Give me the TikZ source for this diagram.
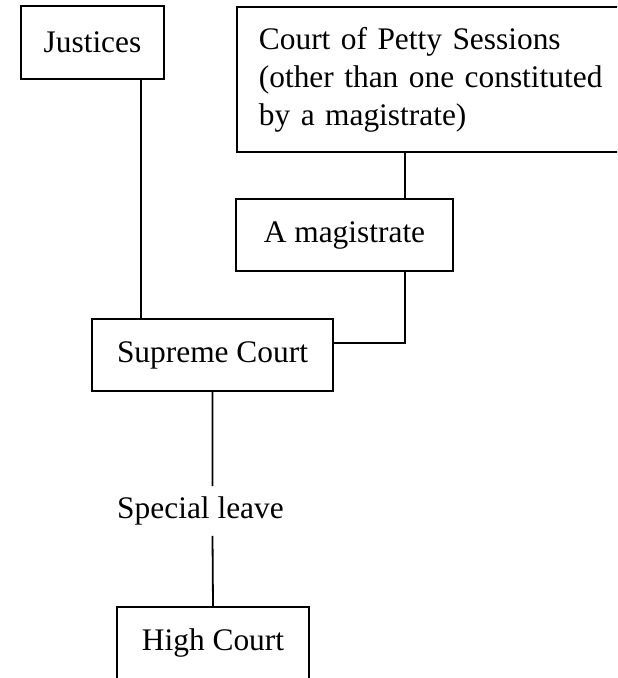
\documentclass[tikz,border=0pt]{standalone}
\usepackage{fontspec}
\setmainfont{Liberation Serif}
\usetikzlibrary{calc, positioning}

\begin{document}
\begin{tikzpicture}[x=0.5pt, y=-0.5pt, line width=0.9pt,
                    court/.style={draw, minimum height=36pt, inner sep=0pt,
                                  font=\fontsize{15.7}{19}\selectfont}]
                    \useasboundingbox (0, 0) rectangle (617, 678);
                    \clip (0, 0) rectangle (617, 678);

                    \node[court, minimum width=71.5pt, minimum height=36.5pt] (justices) at (92.5, 42.5) {Justices};
                    \node[court, anchor=north west, minimum width=220pt, minimum height=72.5pt,
                          text width=198pt, inner xsep=11pt, align=left] (petty) at (236, 6)
                          {Court of Petty Sessions\\(other than one constituted\\by a magistrate)};
                    \node[court, minimum width=108.5pt] (magistrate) at (344.5, 235) {A magistrate};
                    \node[court, minimum width=120.5pt] (supreme) at (212.5, 355) {Supreme Court};
                    \node[court, draw=none, minimum height=24pt] (leave) at (200.5, 511) {Special leave};
                    \node[court, minimum width=96pt] (high) at (213, 643) {High Court};

                    \coordinate (jfoot) at ($(justices.south) + (48.5, 0)$);
                    \coordinate (mtop) at ($(magistrate.north) + (60.5, 0)$);
                    \coordinate (mfoot) at ($(magistrate.south) + (60.5, 0)$);

                    \draw
                    (jfoot) -- (jfoot |- supreme.north)
                    (mtop) -- (mtop |- petty.south)
                    (mfoot) |- ($(supreme.east) + (0, -12)$)
                    (supreme.south) -- (supreme.south |- leave.north)
                    (supreme.south |- leave.south) -- (high.north);
                \end{tikzpicture}
\end{document}
